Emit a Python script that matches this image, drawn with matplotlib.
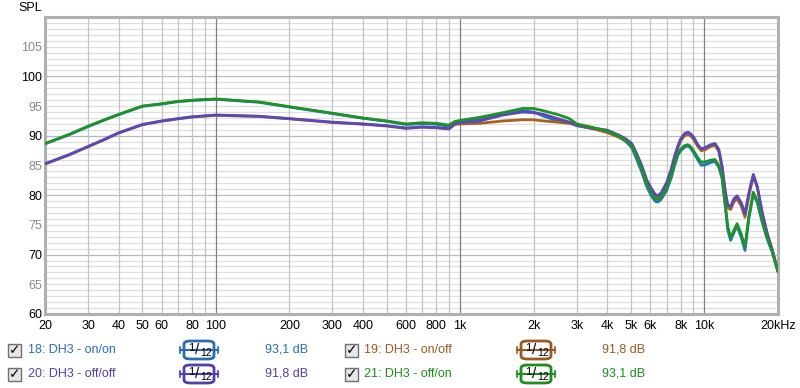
import numpy as np
import matplotlib
matplotlib.use("Agg")
import matplotlib.pyplot as plt
from matplotlib.patches import FancyBboxPatch, Rectangle
from matplotlib.lines import Line2D

plt.rcParams['font.family'] = ['Liberation Sans', 'DejaVu Sans']

#------------------------ datos ------------------------
freq = [20, 25, 30, 35, 40, 50, 60, 70, 80, 100, 150, 200, 300, 400, 500, 600,
        700, 800, 900, 950, 1000, 1200, 1500, 1800, 2000, 2200, 2500, 2800,
        3000, 3500,
        4000, 4500, 4800, 5050, 5300, 5550, 5800, 6050, 6300, 6450, 6650, 7000,
        7300, 7550, 7800, 8000, 8300, 8550, 8750, 9050, 9400, 9700, 10050,
        10600, 11050, 11450, 11800, 12200, 12450, 12800, 13200, 13600, 14150,
        14650, 15200, 15850, 16450, 17250, 18050, 18950, 20000]

spl_on_on = [88.65, 90.15, 91.55, 92.65, 93.55, 94.95, 95.35, 95.75, 95.95, 96.15,
             95.65, 94.85, 93.75, 92.95, 92.45, 91.9, 92.05, 91.95, 91.6, 92.2,
             92.4, 92.9, 93.6, 94.2, 94.0, 93.3, 92.5, 92.2, 91.7, 91.2,
             90.7, 89.75, 88.95, 87.95, 85.9, 83.8, 81.5, 79.95, 78.95, 78.85, 79.3,
             80.8, 82.8, 85.05, 86.8, 87.5, 88.1, 88.3, 88.0, 87.1, 85.95, 85.05,
             85.1, 85.5, 85.7, 84.7, 82.9, 77.7, 74.2, 72.4, 73.7, 74.8, 72.9,
             70.7, 76.1, 80.2, 78.8, 75.4, 72.7, 70.4, 67.1]

spl_on_off = [85.25, 86.75, 88.15, 89.35, 90.45, 91.85, 92.45, 92.85, 93.15, 93.45,
              93.25, 92.85, 92.25, 91.95, 91.65, 91.25, 91.45, 91.35, 91.15, 91.9,
              92.0, 92.1, 92.5, 92.7, 92.7, 92.5, 92.3, 92.1, 91.8, 91.2,
              90.55, 89.7, 89.1, 88.4, 86.6, 84.6, 82.3, 80.85, 79.7, 79.5, 80.0,
              81.8, 84.0, 86.3, 88.1, 89.15, 90.05, 90.25, 90.05, 89.35, 88.2, 87.5,
              87.65, 88.2, 88.4, 87.4, 84.7, 80.0, 77.9, 77.6, 78.9, 79.4, 78.2,
              76.3, 79.9, 83.2, 81.3, 76.9, 73.5, 70.7, 67.1]

spl_off_off = [85.3, 86.8, 88.2, 89.4, 90.5, 91.9, 92.5, 92.9, 93.2, 93.5,
               93.3, 92.9, 92.3, 92.0, 91.7, 91.3, 91.5, 91.4, 91.2, 92.0,
               92.2, 92.5, 93.5, 94.0, 93.9, 93.6, 92.9, 92.3, 91.8, 91.3,
               90.95, 90.05, 89.4, 88.65, 86.85, 84.9, 82.6, 81.2, 80.1, 79.9, 80.4,
               82.1, 84.3, 86.6, 88.4, 89.5, 90.4, 90.6, 90.4, 89.7, 88.5, 87.8,
               88.0, 88.5, 88.7, 87.7, 84.9, 80.4, 78.4, 78.1, 79.4, 79.9, 78.7,
               76.9, 80.4, 83.5, 81.5, 77.0, 73.6, 70.8, 67.2]

spl_off_on = [88.7, 90.2, 91.6, 92.7, 93.6, 95.0, 95.4, 95.8, 96.0, 96.2,
              95.7, 94.9, 93.8, 93.0, 92.5, 92.0, 92.2, 92.1, 91.8, 92.4,
              92.6, 93.1, 93.9, 94.6, 94.6, 94.2, 93.6, 92.9, 92.0, 91.4,
              90.8, 89.85, 89.1, 88.25, 86.3, 84.3, 81.95, 80.4, 79.35, 79.25, 79.7,
              81.2, 83.2, 85.45, 87.1, 87.8, 88.35, 88.5, 88.25, 87.4, 86.3, 85.55,
              85.6, 85.9, 86.0, 85.0, 83.2, 78.1, 74.8, 72.8, 74.1, 75.2, 73.4,
              71.3, 76.5, 80.5, 79.0, 75.6, 72.8, 70.5, 67.2]

nombres = ["18: DH3 - on/on", "19: DH3 - on/off", "20: DH3 - off/off", "21: DH3 - off/on"]
niveles = ["93,1 dB", "91,8 dB", "91,8 dB", "93,1 dB"]
series = [spl_on_on, spl_on_off, spl_off_off, spl_off_on]
colores_linea = ["#2172c8", "#a8601e", "#5a48b8", "#1f9226"]
colores_texto = ["#2a6cb8", "#9a5a22", "#5040a8", "#1e8c1e"]

xtick_pos = [20, 30, 40, 50, 60, 80, 100, 200, 300, 400, 600, 800, 1000,
             2000, 3000, 4000, 5000, 6000, 8000, 10000, 20000]
xtick_lab = ["20", "30", "40", "50", "60", "80", "100", "200", "300", "400",
             "600", "800", "1k", "2k", "3k", "4k", "5k", "6k", "8k", "10k", "20kHz"]
ytick_pos = [60, 65, 70, 75, 80, 85, 90, 95, 100, 105]

#------------------------ figura ------------------------
fig = plt.figure(figsize=(8, 3.88), dpi=100)
ax = fig.add_axes([45/800, 1-314/388, 733/800, 297/388])

# grilla: primero horizontales, luego verticales
for v in range(61, 110):
    c = "#b8b8b8" if v % 10 == 0 else "#dedede"
    ax.axhline(v, color=c, lw=0.9, zorder=0)
for dec in [10, 100, 1000, 10000]:
    for m in range(1, 10):
        f = dec*m
        if f < 20 or f > 20000:
            continue
        c = "#808080" if m == 1 else "#c4c4c4"
        ax.axvline(f, color=c, lw=0.9, zorder=1)

for s, c in zip(series, colores_linea):
    ax.semilogx(freq, s, color=c, lw=2.0, solid_joinstyle='round',
                solid_capstyle='round', zorder=3)

ax.set_xscale('log')
ax.set_xlim(20, 20000)
ax.set_ylim(60, 110)
ax.set_xticks(xtick_pos)
ax.set_xticklabels(xtick_lab)
ax.xaxis.set_minor_locator(matplotlib.ticker.NullLocator())
ax.set_yticks(ytick_pos)
ax.set_yticklabels([str(v) for v in ytick_pos])
for lab, v in zip(ax.get_yticklabels(), ytick_pos):
    lab.set_color("black" if v % 10 == 0 else "#888888")
ax.tick_params(length=0, labelsize=9, pad=4)
ax.tick_params(axis='y', pad=2)
for sp in ax.spines.values():
    sp.set_color("#b0b0b0")
    sp.set_linewidth(2.2)

fig.text(18/800, 1-8/388, "SPL", fontsize=9, va='center', ha='left')

#------------------------ leyenda ------------------------
def caja_12(xc, yc, color):
    w, h = 30/800, 18/388
    ax_f = fig.transFigure
    fig.lines.append(Line2D([xc-19/800, xc+19/800], [yc, yc], color=color, lw=1.5,
                            transform=ax_f))
    for xe in [xc-19/800, xc+19/800]:
        fig.lines.append(Line2D([xe, xe], [yc-3/388, yc+3/388], color=color, lw=1.2,
                                transform=ax_f))
    fig.patches.append(FancyBboxPatch((xc-w/2, yc-h/2), w, h,
                                      boxstyle="round,pad=0,rounding_size=0.008",
                                      fc="white", ec=color, lw=2, transform=ax_f))
    fig.text(xc-8/800, yc+2/388, "1", fontsize=8, ha='center', va='center')
    fig.text(xc-2/800, yc, "/", fontsize=11, ha='center', va='center')
    fig.text(xc+7/800, yc-3/388, "12", fontsize=7.5, ha='center', va='center')

def check(xc, yc):
    fig.patches.append(Rectangle((xc-6/800, yc-6.5/388), 13/800, 13/388, fc="#e6e6e6",
                                 ec="#707070", lw=1, transform=fig.transFigure))
    fig.text(xc+0.5/800, yc, "\u2713", fontsize=10, fontweight='bold', ha='center',
             va='center', family=['DejaVu Sans'])

filas = [1-350/388, 1-350/388, 1-374/388, 1-374/388]
col_x = [(14, 28, 199, 265), (351, 364, 536, 602), (14, 28, 199, 265), (351, 364, 536, 602)]
for i in range(4):
    yc = filas[i]
    xb, xt, xs, xd = col_x[i]
    check(xb/800, yc)
    fig.text(xt/800, yc, nombres[i], color=colores_texto[i], fontsize=9, va='center')
    caja_12(xs/800, yc, colores_texto[i])
    fig.text(xd/800, yc, niveles[i], color=colores_texto[i], fontsize=9, va='center')

fig.savefig("out.png", dpi=100)
